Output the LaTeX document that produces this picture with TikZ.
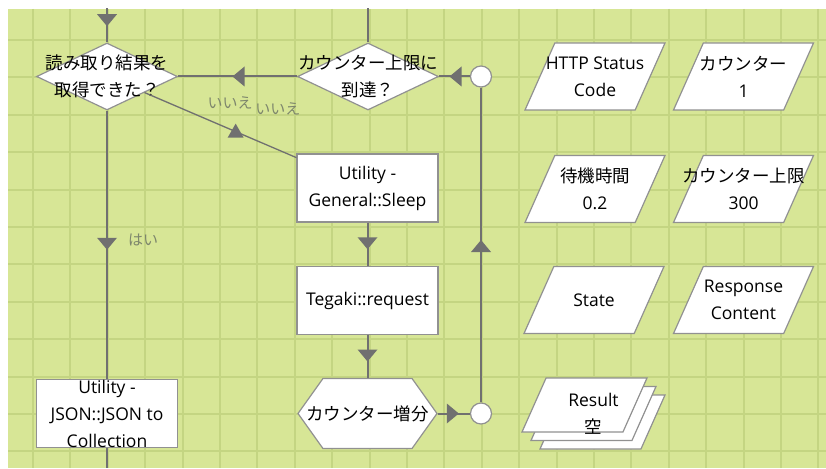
\documentclass[tikz,border=0pt]{standalone}
\usepackage{fontspec}
\setmainfont{Open Sans}
\newfontfamily\jpfont{Noto Sans CJK JP}
\usetikzlibrary{arrows.meta,positioning,calc,shapes.geometric,shapes.symbols,shadows,decorations.markings}

\definecolor{canvasgreen}{RGB}{215,230,150}
\definecolor{gridgreen}{RGB}{196,213,130}
\definecolor{linkgray}{RGB}{112,112,112}
\definecolor{boxgray}{RGB}{145,145,145}
\definecolor{answergray}{RGB}{125,134,108}

\newcommand{\stagefont}{\fontsize{17.5}{27}\selectfont}

\begin{document}
\begin{tikzpicture}[
  x=1pt, y=-1pt,
  gridline/.style={draw=gridgreen, line width=2pt},
  stage/.style={draw=boxgray, fill=white, line width=1.2pt, inner sep=0pt},
  process/.style={stage, rectangle, minimum width=141pt, minimum height=68pt},
  decision/.style={stage, diamond, minimum width=141pt, minimum height=67pt},
  calcstage/.style={stage, signal, signal to=west and east, signal pointer angle=109, minimum width=139pt, minimum height=70pt},
  joinpt/.style={stage, circle, minimum size=21pt},
  data/.style={stage, trapezium, trapezium left angle=66, trapezium right angle=114, trapezium stretches body, inner xsep=0pt, inner ysep=33.5pt, minimum width=140pt},
  link/.style={draw=linkgray, line width=2pt},
  midarrow/.style={postaction={decorate}, decoration={markings, mark=at position 0.5 with {\fill[linkgray] (5pt,0pt) -- (-7pt,10pt) -- (-7pt,-10pt) -- cycle;}}},
  uparrow/.style={postaction={decorate}, decoration={markings, mark=at position 0.6 with {\pgftransformresetnontranslations\fill[linkgray] (0pt,8pt) -- (8pt,-6pt) -- (-8pt,-6pt) -- cycle;}}},
  answer/.style={text=answergray, font=\jpfont\fontsize{15}{18}\selectfont, inner sep=0pt},
  every label/.style={font=\stagefont, align=center, inner sep=0pt}
]

% Canvas
\useasboundingbox (0,0) rectangle (826,468);
\fill[canvasgreen] (8,9) rectangle (826,468);
\foreach \gx in {0,...,21}
  \draw[gridline] ({33+37.4*\gx},9) -- ({33+37.4*\gx},468);
\foreach \gy in {0,...,11}
  \draw[gridline] (8,{40+37.4*\gy}) -- (826,{40+37.4*\gy});
\clip (8,9) rectangle (826,468);

% Flow stages
\node[decision, label={[font=\stagefont\jpfont]center:読み取り結果を\\取得できた？}] (gotresult) at (107,76.5) {};
\node[decision, label={[font=\stagefont\jpfont]center:カウンター上限に\\到達？}] (limit) at (368,76.5) {};
\node[joinpt] (jointop) at (481,76.5) {};
\node[process, label={center:Utility -\\General::Sleep}] (sleep) at (367.5,188) {};
\node[process, label={center:Tegaki::request}] (tegaki) at (367.5,300.5) {};
\node[calcstage, label={center:{\jpfont カウンター増分}}] (addcount) at (367.5,413.5) {};
\node[joinpt] (joinbot) at (481,413.5) {};
\node[process, label={center:Utility -\\JSON::JSON to\\Collection}] (json) at (107,413.5) {};

\coordinate (flowin) at (107,0);
\coordinate (limitup) at (368,0);
\coordinate (flowout) at (107,468);

% Data items
\node[data, label={center:HTTP Status\\Code}] (httpcode) at (595,76.5) {};
\node[data, label={center:{\jpfont カウンター}\\1}] (counter) at (743.5,76.5) {};
\node[data, label={center:{\jpfont 待機時間}\\0.2}] (waittime) at (595,189) {};
\node[data, label={center:{\jpfont カウンター上限}\\300}] (countermax) at (743.5,189) {};
\node[data, label={center:State}] (state) at (594,300) {};
\node[data, label={center:Response\\Content}] (response) at (743.5,300) {};
\node[data, minimum width=125pt, inner ysep=27pt,
  copy shadow={shadow xshift=18pt, shadow yshift=-17pt, draw=boxgray, fill=white, line width=1.2pt},
  copy shadow={shadow xshift=9pt, shadow yshift=-8.5pt, draw=boxgray, fill=white, line width=1.2pt},
  label={[xshift=9pt, yshift=-8.5pt]center:Result\\{\jpfont 空}}] (result) at (584.5,405) {};

% Links
\draw[link, midarrow] (flowin) -- (gotresult);
\draw[link] (limitup) -- (limit);
\draw[link, midarrow] (gotresult) -- node[answer, xshift=36pt, yshift=4.5pt] {はい} (json);
\draw[link] (json) -- (flowout);
\draw[link, midarrow] (limit) -- node[answer, xshift=-7.5pt, yshift=-26pt] {いいえ} (gotresult);
\draw[link, line width=1.3pt, uparrow] (gotresult) -- node[answer, xshift=57.5pt, yshift=16.5pt] {いいえ} (sleep);
\draw[link, midarrow] (sleep) -- (tegaki);
\draw[link, midarrow] (tegaki) -- (addcount);
\draw[link, midarrow] (addcount) -- (joinbot);
\draw[link, midarrow] (joinbot) -- (jointop);
\draw[link, midarrow] (jointop) -- (limit);

\end{tikzpicture}
\end{document}
